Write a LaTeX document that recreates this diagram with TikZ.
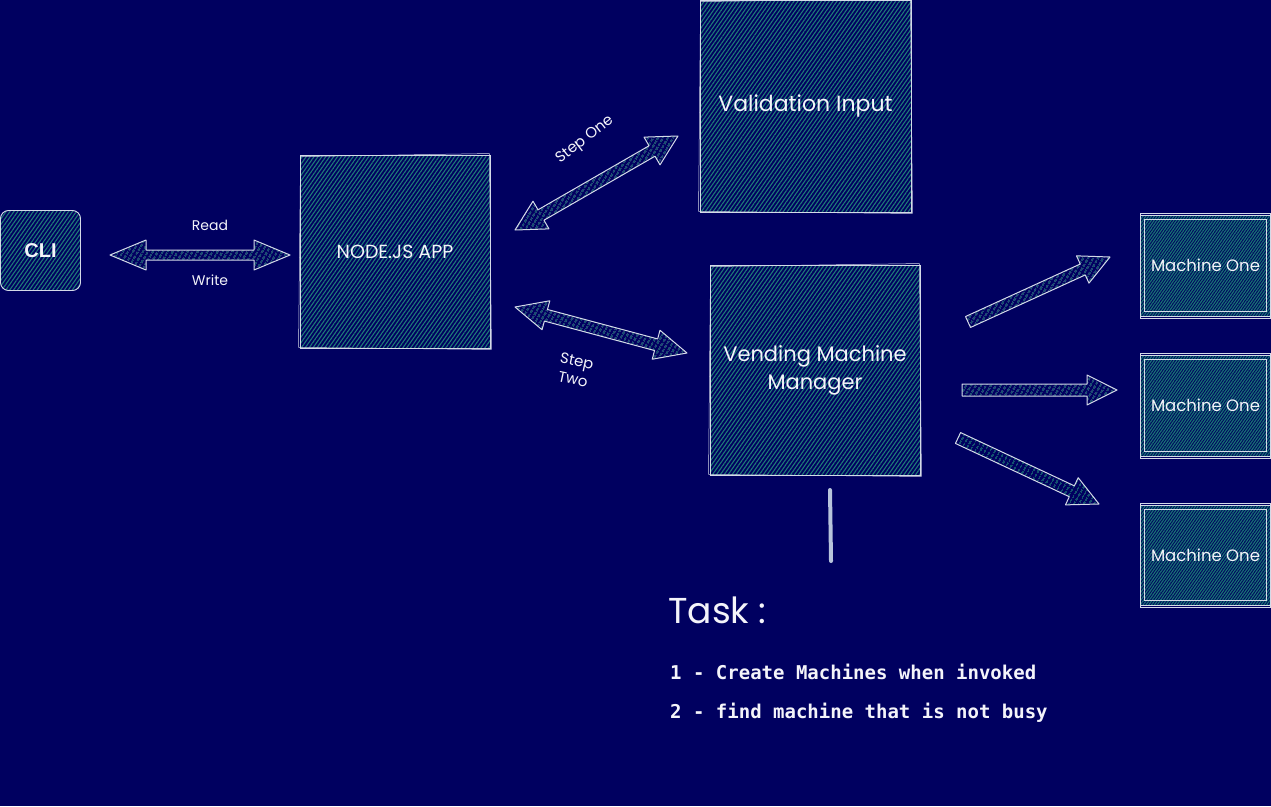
\documentclass[tikz,border=0pt]{standalone}
\usepackage{fontspec}
\setmainfont{Poppins}
\newfontfamily\monof{DejaVu Sans Mono}
\newfontfamily\clif{Liberation Sans}
\usetikzlibrary{calc,patterns.meta}
\definecolor{bgc}{HTML}{000060}
\definecolor{hatc}{HTML}{1E7C78}
\definecolor{mhatc}{HTML}{177472}
\definecolor{edgec}{HTML}{D4DAE8}
\definecolor{txtc}{HTML}{F4F4FA}
\definecolor{linec}{HTML}{B8C4DC}
\tikzset{
 box/.style={draw=edgec, line width=0.9pt, pattern={Lines[angle=55,distance=3.2pt,line width=1.1pt]}, pattern color=hatc, text=txtc, inner sep=0pt, align=center},
 mbox/.style={box, pattern={Lines[angle=55,distance=2.3pt,line width=1.2pt]}, pattern color=mhatc},
 arr/.style={draw=edgec, line width=1pt, line join=round, pattern={Lines[angle=60,distance=4pt,line width=1.1pt]}, pattern color=hatc},
 lbl/.style={text=txtc, font=\fontsize{14}{16}\selectfont, inner sep=0pt, align=center},
 boxfont/.style={font=\fontsize{19}{24}\selectfont},
 mfont/.style={font=\fontsize{16.5}{20}\selectfont},
}
\newcommand\onearrow[5]{%
 \coordinate (H) at ($(#2)!#5!(#1)$);
 \path[arr] ($(#1)!#3!90:(#2)$) -- ($(H)!#3!90:(#2)$) -- ($(H)!#4!90:(#2)$) -- (#2) -- ($(H)!#4!-90:(#2)$) -- ($(H)!#3!-90:(#2)$) -- ($(#1)!#3!-90:(#2)$) -- cycle;}
\newcommand\twoarrow[5]{%
 \coordinate (H1) at ($(#1)!#5!(#2)$);
 \coordinate (H2) at ($(#2)!#5!(#1)$);
 \path[arr] (#1) -- ($(H1)!#4!90:(#2)$) -- ($(H1)!#3!90:(#2)$) -- ($(H2)!#3!90:(#2)$) -- ($(H2)!#4!90:(#2)$) -- (#2) -- ($(H2)!#4!-90:(#2)$) -- ($(H2)!#3!-90:(#2)$) -- ($(H1)!#3!-90:(#2)$) -- ($(H1)!#4!-90:(#2)$) -- cycle;}
\begin{document}
\begin{tikzpicture}[x=1pt,y=-1pt]
\fill[bgc] (0,0) rectangle (1271,806);
\useasboundingbox (0,0) rectangle (1271,806);

% boxes
\node[box, rounded corners=8pt, minimum width=80pt, minimum height=80pt, font=\clif\bfseries\fontsize{20}{24}\selectfont] (cli) at (40.5,250.5) {CLI};
\node[box, boxfont, minimum width=190pt, minimum height=193pt] (app) at (395,251.5) {NODE.JS APP};
\node[box, font=\fontsize{22}{26}\selectfont, minimum width=211pt, minimum height=212pt] (val) at (805.5,106) {Validation Input};
\node[box, font=\fontsize{21}{28}\selectfont, minimum width=210pt, minimum height=210pt] (vmm) at (815,370) {Vending Machine\\Manager};
\node[mbox, mfont, minimum width=131pt, minimum height=101pt] (m1) at (1205.5,265.5) {Machine One};
\node[mbox, mfont, minimum width=131pt, minimum height=101pt] (m2) at (1205.5,405.5) {Machine One};
\node[mbox, mfont, minimum width=131pt, minimum height=100pt] (m3) at (1205.5,555) {Machine One};
\foreach \m in {m1,m2,m3}{
 \draw[edgec, line width=0.9pt] ([shift={(5,5)}]\m.north west) rectangle ([shift={(-5,-5)}]\m.south east);
 \draw[edgec, line width=0.5pt] ([shift={(1,-1)}]\m.north west) rectangle ([shift={(-1,2)}]\m.south east);
}
\foreach \m in {app,val,vmm}{
 \draw[edgec, line width=0.5pt] ([shift={(1,2)}]\m.north west) -- ([shift={(-1,-1)}]\m.north east) -- ([shift={(1,1)}]\m.south east) -- ([shift={(-1,-1)}]\m.south west) -- cycle;
}

% arrow coordinates
\coordinate (rwA) at (110,255);
\coordinate (rwB) at (290,255);
\coordinate (s1A) at (515,230);
\coordinate (s1B) at (678,136);
\coordinate (s2A) at (515,307);
\coordinate (s2B) at (687,353);
\coordinate (a1A) at (968,322);
\coordinate (a1B) at (1110,257);
\coordinate (a2A) at (962,390);
\coordinate (a2B) at (1117,390);
\coordinate (a3A) at (958,438);
\coordinate (a3B) at (1099,504);

\twoarrow{rwA}{rwB}{5pt}{15pt}{36pt}
\twoarrow{s1A}{s1B}{6pt}{16pt}{30pt}
\twoarrow{s2A}{s2B}{6pt}{15pt}{32pt}
\onearrow{a1A}{a1B}{6pt}{15pt}{30pt}
\onearrow{a2A}{a2B}{6pt}{15pt}{30pt}
\onearrow{a3A}{a3B}{6pt}{15pt}{30pt}

% labels
\node[lbl] (read) at (210,225) {Read};
\node[lbl] (write) at (210,280) {Write};
\node[lbl, rotate=38, font=\fontsize{15}{17}\selectfont] (s1l) at (585,140) {Step One};
\node[lbl, rotate=-12, font=\fontsize{15}{19}\selectfont] (s2l) at (575,370) {Step\\Two};

% vertical line
\coordinate (vl1) at (830,490);
\coordinate (vl2) at (831,561);
\draw[linec, line width=4pt, line cap=round] (vl1) -- (vl2);

% task
\node[text=txtc, anchor=west, inner sep=0pt, font=\fontsize{36}{40}\selectfont] (task) at (668,610) {Task :};
\node[text=txtc, anchor=west, inner sep=0pt, font=\monof\bfseries\fontsize{19}{22}\selectfont] (t1) at (670,672) {1 - Create Machines when invoked};
\node[text=txtc, anchor=west, inner sep=0pt, font=\monof\bfseries\fontsize{19}{22}\selectfont] (t2) at (670,713) {2 - find machine that is not busy};
\end{tikzpicture}
\end{document}
